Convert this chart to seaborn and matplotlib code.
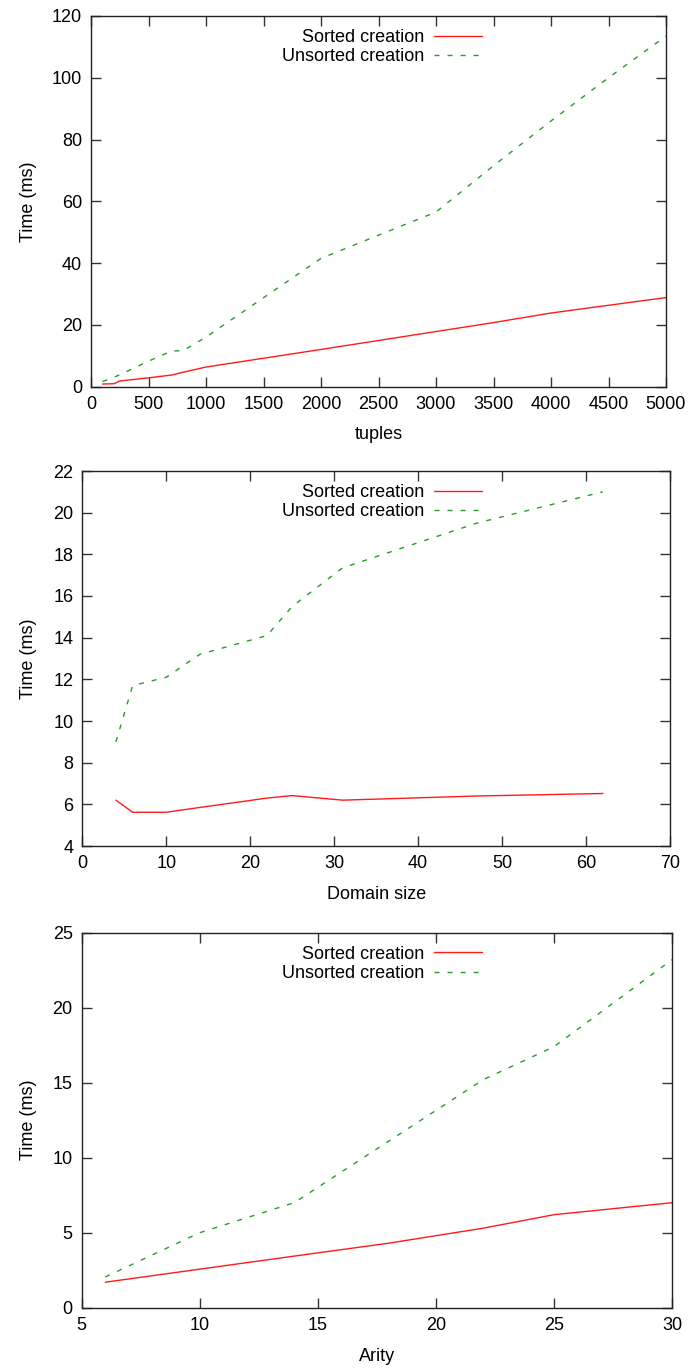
import matplotlib
matplotlib.use("Agg")
import matplotlib.pyplot as plt
import seaborn as sns
import numpy as np

# chart 1: time vs number of tuples
tuples = [100, 200, 250, 500, 700, 800, 1000, 2000, 3000, 3500, 4000, 4500, 5000]
tuples_sorted = [0.8, 0.9, 1.8, 2.8, 3.7, 4.6, 6.3, 12.0, 17.8, 20.7, 23.8, 26.3, 28.8]
tuples_unsorted = [1.6, 3.0, 3.8, 8.2, 11.5, 11.6, 16.0, 41.5, 56.5, 71.5, 86.0, 100.0, 113.5]

# chart 2: time vs domain size
domain = [4, 6, 10, 14, 22, 25, 31, 47, 62]
domain_sorted = [6.2, 5.62, 5.62, 5.85, 6.3, 6.42, 6.2, 6.4, 6.52]
domain_unsorted = [9.0, 11.7, 12.1, 13.2, 14.1, 15.5, 17.35, 19.5, 21.0]

# chart 3: time vs arity
arity = [6, 10, 14, 18, 22, 25, 30]
arity_sorted = [1.7, 2.57, 3.44, 4.3, 5.3, 6.2, 7.0]
arity_unsorted = [2.05, 5.0, 7.0, 11.1, 15.2, 17.4, 23.2]

labels = ["Sorted creation", "Unsorted creation"]
red = "#ff1a1a"
green = "#2a9a2a"

sns.set_style("ticks")
plt.rcParams["font.family"] = ["Liberation Sans", "DejaVu Sans"]
plt.rcParams["font.size"] = 13
plt.rcParams["text.color"] = "black"
plt.rcParams["axes.labelcolor"] = "black"
plt.rcParams["xtick.color"] = "black"
plt.rcParams["ytick.color"] = "black"

W, H = 689, 1372
fig = plt.figure(figsize=(W / 100, H / 100), dpi=100)

# axes boxes in pixels: left, right, top, bottom
boxes = [(91, 666, 16, 386.5), (82.3, 670, 471, 846), (81.7, 672, 932.7, 1307.7)]

panels = [
    (tuples, tuples_sorted, tuples_unsorted, "tuples", (0, 5000), np.arange(0, 5001, 500), (0, 120), np.arange(0, 121, 20)),
    (domain, domain_sorted, domain_unsorted, "Domain size", (0, 70), np.arange(0, 71, 10), (4, 22), np.arange(4, 23, 2)),
    (arity, arity_sorted, arity_unsorted, "Arity", (5, 30), np.arange(5, 31, 5), (0, 25), np.arange(0, 26, 5)),
]

for (l, r, t, b), (x, s, u, xlab, xlim, xt, ylim, yt) in zip(boxes, panels):
    ax = fig.add_axes([l / W, 1 - b / H, (r - l) / W, (b - t) / H])
    sns.lineplot(x=x, y=s, ax=ax, color=red, lw=1.0, label=labels[0], sort=False)
    sns.lineplot(x=x, y=u, ax=ax, color=green, lw=1.0, label=labels[1], sort=False,
                 dashes=False)
    ax.lines[1].set_dashes((3.6, 5.8))
    ax.set_xlim(*xlim)
    ax.set_ylim(*ylim)
    ax.set_xticks(xt)
    ax.set_yticks(yt)
    ax.tick_params(direction="in", top=True, right=True, length=7, width=1,
                   labelsize=13, pad=6.5, color="#333333", labelcolor="black")
    for sp in ax.spines.values():
        sp.set_visible(True)
        sp.set_linewidth(1)
        sp.set_color("#222222")
    ax.set_xlabel(xlab, fontsize=13, labelpad=10, color="black")
    ax.set_ylabel("Time (ms)", fontsize=13, color="black")
    ax.yaxis.set_label_coords((37 - l) / (r - l), 0.5)
    leg = ax.legend(loc="upper right", bbox_to_anchor=((482 - l) / (r - l), 1 - 13 / (b - t)),
                    frameon=False, markerfirst=False, fontsize=13, borderpad=0,
                    borderaxespad=0, handlelength=2.66, handletextpad=0.55,
                    labelspacing=0.12)
    for txt in leg.get_texts():
        txt.set_ha("right")
        txt.set_color("black")

fig.savefig("out.png", dpi=100)
